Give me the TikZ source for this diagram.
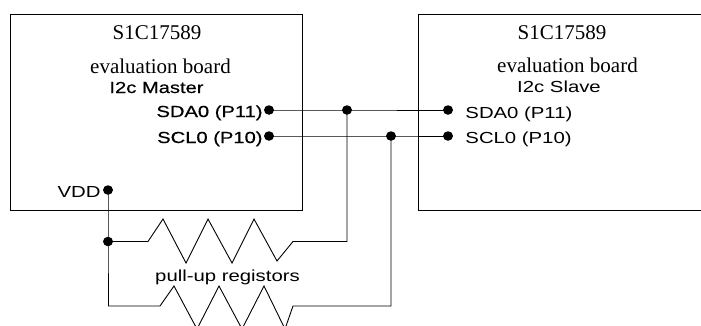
\documentclass[tikz,border=0pt]{standalone}
\usepackage{fontspec}
\usetikzlibrary{shapes.geometric}
\setmainfont{Liberation Serif}
\newfontfamily\goth[FakeStretch=1.27]{Liberation Sans}
\newfontfamily\gothm[FakeStretch=1.26, FakeBold=0.5]{Liberation Sans}
\begin{document}
\begin{tikzpicture}[x=1pt,y=-1pt, line width=0.9pt,
  board/.style={draw, rectangle, minimum width=292pt, minimum height=196pt, inner sep=0pt, anchor=north west},
  jdot/.style={shape=ellipse, fill=black, draw=none, inner sep=0pt, outer sep=0pt, minimum width=10pt, minimum height=9.5pt},
  serif/.style={font=\fontsize{21}{24}\selectfont, inner sep=0pt},
  pin/.style={font=\goth\fontsize{16}{18}\selectfont, inner sep=0pt},
  pinm/.style={font=\gothm\fontsize{16}{18}\selectfont, inner sep=0pt},
  wire/.style={line width=0.9pt}]
\path[use as bounding box] (0,0) rectangle (701,325);
\clip (0,0) rectangle (701,325);
% boards
\node[board] (master) at (10,14) {};
\node[board, minimum width=310pt] (slave) at (418,14) {};
% master texts
\node[serif, anchor=base] (mT1) at (157,39) {S1C17589};
\node[serif, anchor=base] (mT2) at (160.5,73) {evaluation board};
\node[pinm, anchor=base] (mT3) at (156.5,93) {I2c Master};
\node[pinm, anchor=base east] (mSDAt) at (263,117) {SDA0 (P11)};
\node[pinm, anchor=base east] (mSCLt) at (263,143) {SCL0 (P10)};
\node[pin, anchor=base east] (vddt) at (101,197) {VDD};
% slave texts
\node[serif, anchor=base] (sT1) at (562,39) {S1C17589};
\node[serif, anchor=base] (sT2) at (567.5,72) {evaluation board};
\node[pin, anchor=base] (sT3) at (559,92) {I2c Slave};
\node[pin, anchor=base west] (sSDAt) at (465,118) {SDA0 (P11)};
\node[pin, anchor=base west] (sSCLt) at (465,143) {SCL0 (P10)};
% dots
\node[jdot] (sdaL) at (269,110) {};
\node[jdot] (sclL) at (269,136) {};
\node[jdot] (vdd) at (108,190) {};
\node[jdot] (sdaR) at (448,110) {};
\node[jdot] (sclR) at (448,136) {};
\node[jdot] (jSDA) at (347,110) {};
\node[jdot] (jSCL) at (391,136) {};
\node[jdot] (jV) at (108,241.5) {};
\coordinate (vLow) at (108,306);
% signal wires
\draw[wire] (sdaL.center) -- (jSDA.center) -- (sdaR.center);
\draw[wire] (sclL.center) -- (jSCL.center) -- (sclR.center);
\draw[wire] (vdd.center) -- (jV.center) -- (vLow);
% upper pull-up resistor
\draw[wire] (jV.center) -- (148,241.5) -- (163,219) -- (186,263) -- (208,219) -- (232,263)
  -- (254,219) -- (277,261) -- (293,241.5) -| (jSDA.center);
% lower pull-up resistor
\draw[wire] (vLow) -- (160,306) -- (174,286) -- (197,329) -- (219,286) -- (242,329)
  -- (264,286) -- (285,329) -- (293,306) -| (jSCL.center);
\node[pin, anchor=base] (lbl) at (227.5,281) {pull-up registors};
\end{tikzpicture}
\end{document}
